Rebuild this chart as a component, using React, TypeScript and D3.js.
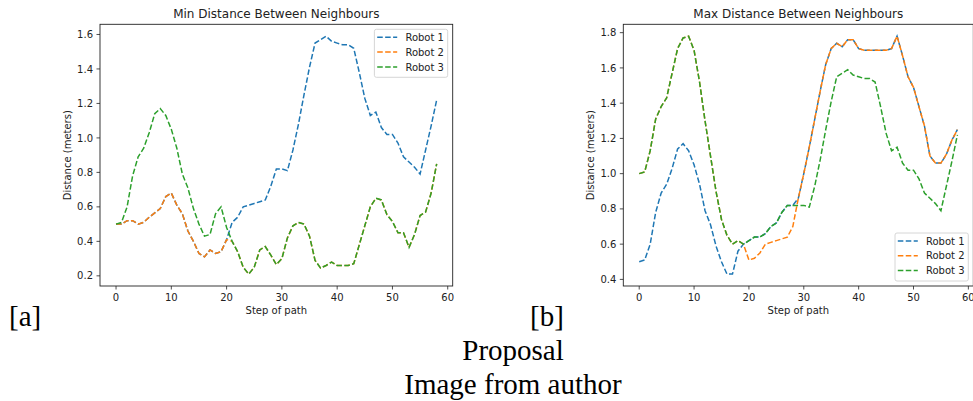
import React from 'react';
import * as d3 from 'd3';

// ---- Data ----
const xTicks = [0, 10, 20, 30, 40, 50, 60];
const minYTicks = [0.2, 0.4, 0.6, 0.8, 1.0, 1.2, 1.4, 1.6];
const maxYTicks = [0.4, 0.6, 0.8, 1.0, 1.2, 1.4, 1.6, 1.8];
const seriesNames = ['Robot 1', 'Robot 2', 'Robot 3'];
const seriesColors = ['#1f77b4', '#ff7f0e', '#2ca02c'];

const minRobot1 = [0.5, 0.5, 0.52, 0.52, 0.5, 0.51, 0.54, 0.565, 0.59, 0.66, 0.68, 0.61, 0.56, 0.46, 0.4, 0.33, 0.31, 0.35, 0.33, 0.34, 0.41,
  0.51, 0.54, 0.6, 0.61, 0.62, 0.63, 0.64, 0.72, 0.82, 0.82, 0.81, 0.93, 1.08, 1.25, 1.41, 1.55, 1.57, 1.59, 1.56, 1.55, 1.54, 1.54, 1.52,
  1.38, 1.23, 1.13, 1.15, 1.06, 1.02, 1.02, 0.97, 0.89, 0.86, 0.83, 0.79, 0.93, 1.07, 1.22];
const minRobot2 = [0.5, 0.5, 0.52, 0.52, 0.5, 0.51, 0.54, 0.565, 0.59, 0.66, 0.68, 0.61, 0.56, 0.46, 0.4, 0.33, 0.31, 0.35, 0.33, 0.34, 0.41,
  0.4, 0.34, 0.25, 0.21, 0.25, 0.35, 0.37, 0.32, 0.265, 0.3, 0.42, 0.49, 0.51, 0.5, 0.43, 0.29, 0.245, 0.26, 0.28, 0.26, 0.26, 0.26, 0.27,
  0.38, 0.49, 0.6, 0.65, 0.64, 0.555, 0.515, 0.45, 0.45, 0.365, 0.44, 0.55, 0.57, 0.68, 0.85];
const minRobot3 = [0.5, 0.51, 0.6, 0.78, 0.89, 0.94, 1.03, 1.14, 1.17, 1.13, 1.05, 0.94, 0.79, 0.71, 0.59, 0.5, 0.43, 0.44, 0.56, 0.6, 0.48,
  0.4, 0.34, 0.25, 0.21, 0.25, 0.35, 0.37, 0.32, 0.265, 0.3, 0.42, 0.49, 0.51, 0.5, 0.43, 0.29, 0.245, 0.26, 0.28, 0.26, 0.26, 0.26, 0.27,
  0.38, 0.49, 0.6, 0.65, 0.64, 0.555, 0.515, 0.45, 0.45, 0.365, 0.44, 0.55, 0.57, 0.68, 0.85];

const maxRobot1 = [0.5, 0.51, 0.6, 0.78, 0.89, 0.94, 1.03, 1.14, 1.17, 1.13, 1.05, 0.94, 0.79, 0.71, 0.59, 0.5, 0.43, 0.43, 0.56, 0.6,
  0.62, 0.64, 0.64, 0.66, 0.7, 0.72, 0.78, 0.82, 0.82, 0.86, 1.0, 1.15, 1.31, 1.47, 1.62, 1.71, 1.74, 1.72, 1.76, 1.76, 1.71, 1.7, 1.7,
  1.7, 1.7, 1.7, 1.71, 1.78, 1.67, 1.55, 1.49, 1.38, 1.27, 1.1, 1.06, 1.06, 1.11, 1.19, 1.25];
const maxRobot2 = [1.0, 1.01, 1.13, 1.31, 1.38, 1.43, 1.57, 1.71, 1.77, 1.78, 1.7, 1.52, 1.3, 1.1, 0.9, 0.74, 0.65, 0.6, 0.62, 0.6,
  0.51, 0.52, 0.55, 0.6, 0.61, 0.62, 0.63, 0.64, 0.7, 0.86, 1.0, 1.15, 1.31, 1.47, 1.62, 1.71, 1.74, 1.72, 1.76, 1.76, 1.71, 1.7, 1.7,
  1.7, 1.7, 1.7, 1.71, 1.78, 1.67, 1.55, 1.49, 1.38, 1.27, 1.1, 1.06, 1.06, 1.11, 1.19, 1.25];
const maxRobot3 = [1.0, 1.01, 1.13, 1.31, 1.38, 1.43, 1.57, 1.71, 1.77, 1.78, 1.7, 1.52, 1.3, 1.1, 0.9, 0.74, 0.65, 0.6, 0.62, 0.6,
  0.62, 0.64, 0.64, 0.66, 0.7, 0.72, 0.78, 0.82, 0.82, 0.82, 0.82, 0.81, 0.93, 1.08, 1.25, 1.41, 1.55, 1.57, 1.59, 1.56, 1.55, 1.54, 1.54,
  1.52, 1.38, 1.23, 1.13, 1.15, 1.06, 1.02, 1.02, 0.97, 0.89, 0.86, 0.83, 0.79, 0.93, 1.07, 1.22];

const FONT = '"DejaVu Sans", Verdana, sans-serif';
const SERIF = '"Liberation Serif", "Times New Roman", serif';
const TXT = '#222';

type ChartProps = {
  x0: number; x1: number; y0: number; y1: number;
  title: string;
  data: number[][];
  yTicks: number[];
  legend: 'upper right' | 'lower right';
};

function Chart({ x0, x1, y0, y1, title, data, yTicks, legend }: ChartProps) {
  const n = data[0].length;
  const xPad = (n - 1) * 0.05;
  const x = d3.scaleLinear().domain([-xPad, n - 1 + xPad]).range([x0, x1]);
  const all = data.flat();
  const [mn, mx] = d3.extent(all) as [number, number];
  const yPad = (mx - mn) * 0.05;
  const y = d3.scaleLinear().domain([mn - yPad, mx + yPad]).range([y1, y0]);
  const line = d3.line<number>().x((_, i) => x(i)).y((d) => y(d));

  const lw = 73.3, lh = 48;
  const lx = x1 - 5 - lw;
  const ly = legend === 'upper right' ? y0 + 5 : y1 - 5 - lh;

  return (
    <g>
      <text x={(x0 + x1) / 2} y={18} textAnchor="middle" fontFamily={FONT} fontSize={12} fill={TXT}>{title}</text>
      <defs>
        <clipPath id={`clip-${Math.round(x0)}`}>
          <rect x={x0} y={y0} width={x1 - x0} height={y1 - y0} />
        </clipPath>
      </defs>
      <g clipPath={`url(#clip-${Math.round(x0)})`}>
        {data.map((vals, si) => (
          <path key={si} d={line(vals) || ''} fill="none" stroke={seriesColors[si]} strokeWidth={1.5}
            strokeDasharray="5.55,2.4" />
        ))}
      </g>
      {/* spines */}
      <rect x={x0} y={y0} width={x1 - x0} height={y1 - y0} fill="none" stroke="#222" strokeWidth={0.9} />
      {/* x ticks */}
      {xTicks.map((t) => (
        <g key={t}>
          <line x1={x(t)} x2={x(t)} y1={y1} y2={y1 + 3.5} stroke="#222" strokeWidth={0.8} />
          <text x={x(t)} y={y1 + 15} textAnchor="middle" fontFamily={FONT} fontSize={10} fill={TXT}>{t}</text>
        </g>
      ))}
      {/* y ticks */}
      {yTicks.map((t) => (
        <g key={t}>
          <line x1={x0 - 3.5} x2={x0} y1={y(t)} y2={y(t)} stroke="#222" strokeWidth={0.8} />
          <text x={x0 - 7} y={y(t) + 3.6} textAnchor="end" fontFamily={FONT} fontSize={10} fill={TXT}>{t.toFixed(1)}</text>
        </g>
      ))}
      <text x={(x0 + x1) / 2} y={y1 + 27.5} textAnchor="middle" fontFamily={FONT} fontSize={10} fill={TXT}>Step of path</text>
      <text transform={`translate(${x0 - 29}, ${(y0 + y1) / 2}) rotate(-90)`} textAnchor="middle" fontFamily={FONT} fontSize={10} fill={TXT}>Distance (meters)</text>
      {/* legend */}
      <rect x={lx} y={ly} width={lw} height={lh} rx={2} fill="#fff" fillOpacity={0.8} stroke="#ccc" strokeWidth={0.8} />
      {seriesNames.map((name, i) => (
        <g key={name}>
          <line x1={lx + 2.8} x2={lx + 22.8} y1={ly + 8 + i * 14.8} y2={ly + 8 + i * 14.8} stroke={seriesColors[i]} strokeWidth={1.5} strokeDasharray="5.55,2.4" />
          <text x={lx + 31} y={ly + 11.6 + i * 14.8} fontFamily={FONT} fontSize={10} fill={TXT}>{name}</text>
        </g>
      ))}
    </g>
  );
}

export default function App() {
  return (
    <svg width={973} height={401} style={{ position: 'absolute', left: 0, top: 0, background: '#fff' }}>
      <rect x={0} y={0} width={973} height={401} fill="#fff" />
      <Chart x0={100} x1={452.7} y0={24.3} y1={286} title="Min Distance Between Neighbours"
        data={[minRobot1, minRobot2, minRobot3]} yTicks={minYTicks} legend="upper right" />
      <Chart x0={623.3} x1={973.3} y0={24.3} y1={286} title="Max Distance Between Neighbours"
        data={[maxRobot1, maxRobot2, maxRobot3]} yTicks={maxYTicks} legend="lower right" />
      <text x={9} y={326} fontFamily={SERIF} fontSize={29} fill="#000">[a]</text>
      <text x={530} y={326} fontFamily={SERIF} fontSize={29} fill="#000">[b]</text>
      <text x={513} y={360} textAnchor="middle" fontFamily={SERIF} fontSize={29} fill="#000">Proposal</text>
      <text x={513} y={394} textAnchor="middle" fontFamily={SERIF} fontSize={29} fill="#000">Image from author</text>
    </svg>
  );
}
